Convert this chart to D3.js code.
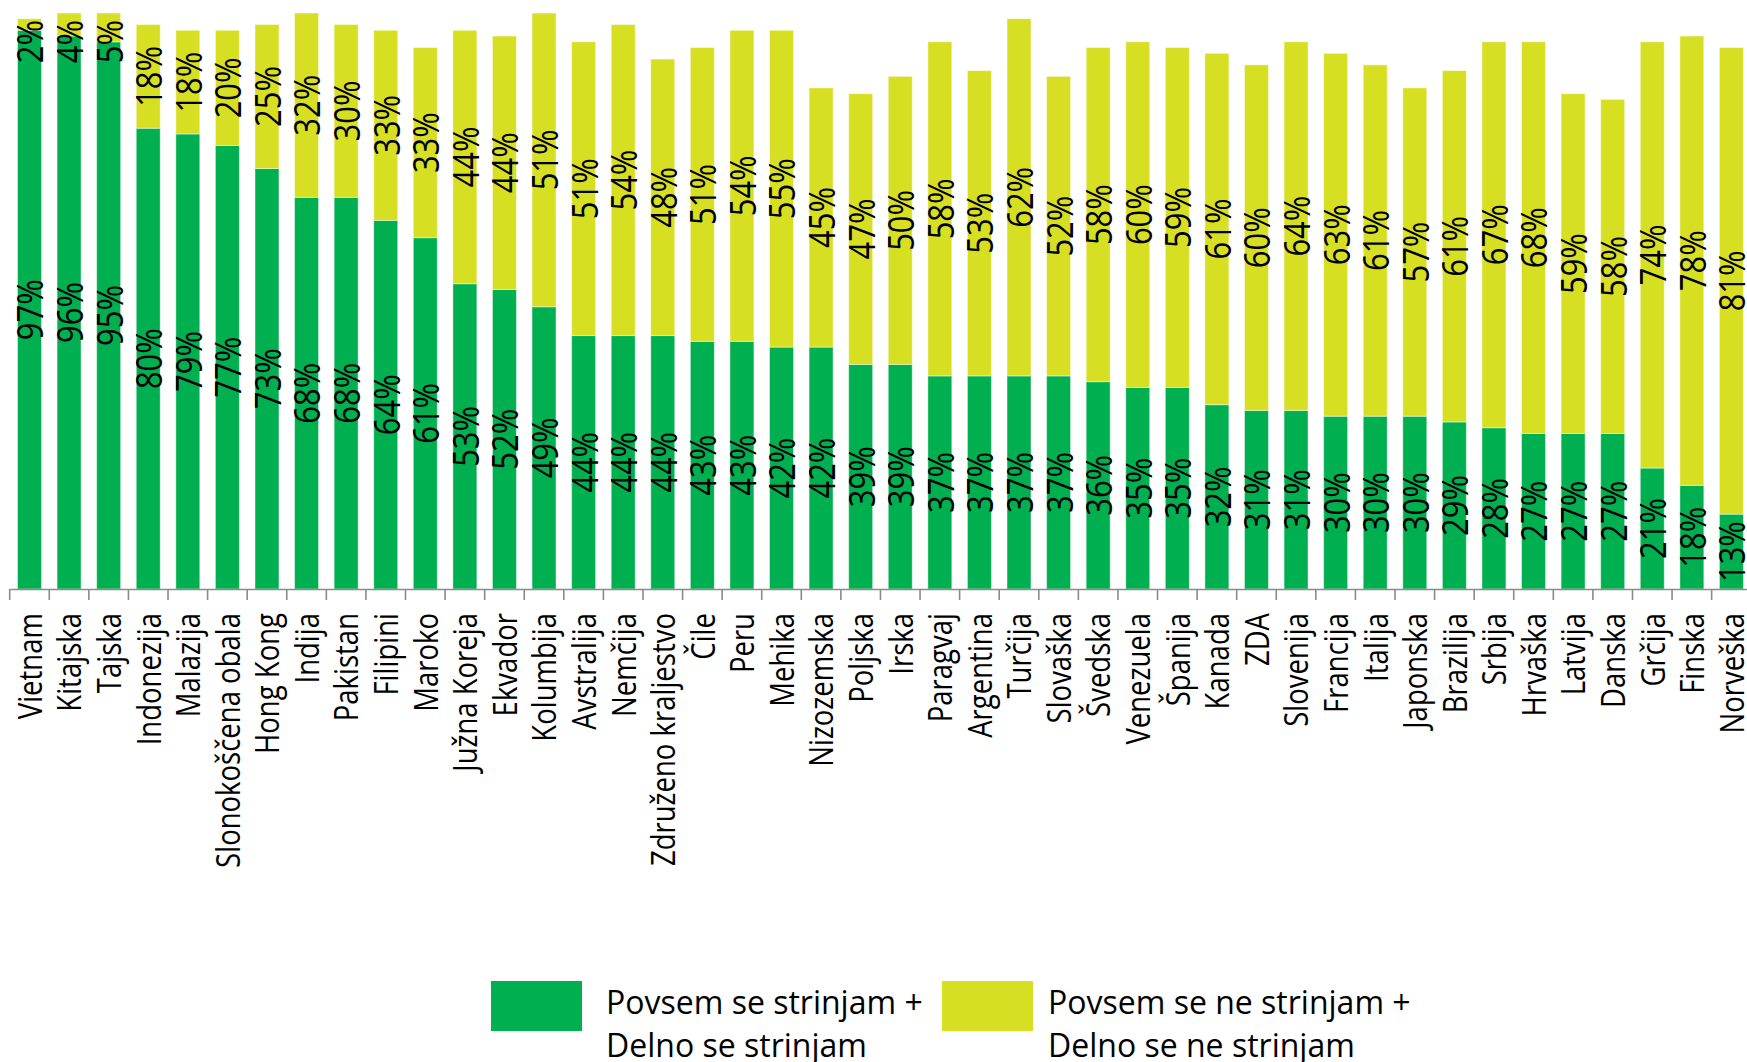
<!DOCTYPE html>
<html>
<head>
<meta charset="utf-8">
<script src="https://cdn.jsdelivr.net/npm/d3@7"></script>
<style>
  html, body { margin: 0; padding: 0; background: #fff; }
  svg { display: block; }
  text { font-family: "Open Sans", "Noto Sans", sans-serif; fill: #000; }
</style>
</head>
<body>
<svg id="chart" width="1747" height="1062"></svg>
<script>
const categories = ["Vietnam","Kitajska","Tajska","Indonezija","Malazija","Slonokoščena obala","Hong Kong","Indija","Pakistan","Filipini","Maroko","Južna Koreja","Ekvador","Kolumbija","Avstralija","Nemčija","Združeno kraljestvo","Čile","Peru","Mehika","Nizozemska","Poljska","Irska","Paragvaj","Argentina","Turčija","Slovaška","Švedska","Venezuela","Španija","Kanada","ZDA","Slovenija","Francija","Italija","Japonska","Brazilija","Srbija","Hrvaška","Latvija","Danska","Grčija","Finska","Norveška"];
const agree    = [97,96,95,80,79,77,73,68,68,64,61,53,52,49,44,44,44,43,43,42,42,39,39,37,37,37,37,36,35,35,32,31,31,30,30,30,29,28,27,27,27,21,18,13];
const disagree = [2,4,5,18,18,20,25,32,30,33,33,44,44,51,51,54,48,51,54,55,45,47,50,58,53,62,52,58,60,59,61,60,64,63,61,57,61,67,68,59,58,74,78,81];
const seriesNames = [["Povsem se strinjam +","Delno se strinjam"],["Povsem se ne strinjam +","Delno se ne strinjam"]];
const colors = ["#00b050","#d7df23"];

const svg = d3.select("#chart");
const x = d3.scaleBand().domain(categories).range([9.7, 9.7 + 44*39.58]).paddingInner(0.394).paddingOuter(0.197);
const y = d3.scaleLinear().domain([0,100]).range([589, 13]);
const squeeze = 0.86;

const rows = categories.map((c,i)=>({c, a:agree[i], d:disagree[i]}));

const g = svg.append("g");
g.selectAll("rect.a").data(rows).join("rect")
  .attr("x", d=>x(d.c)).attr("width", x.bandwidth())
  .attr("y", d=>y(d.a)).attr("height", d=>y(0)-y(d.a))
  .attr("fill", colors[0]).attr("stroke","rgba(255,255,255,0.45)").attr("stroke-width",1);
g.selectAll("rect.d").data(rows).join("rect")
  .attr("x", d=>x(d.c)).attr("width", x.bandwidth())
  .attr("y", d=>y(d.a+d.d)).attr("height", d=>y(d.a)-y(d.a+d.d))
  .attr("fill", colors[1]).attr("stroke","rgba(255,255,255,0.45)").attr("stroke-width",1);

// axis
const axis = d3.axisBottom(x).tickSize(0).tickFormat("");
const ax = svg.append("g").attr("transform","translate(0,589)").call(axis);
ax.select(".domain").attr("stroke","#8a8a8a").attr("stroke-width",1.6);
svg.append("g").selectAll("line").data(categories).join("line")
  .attr("x1", c=>x(c) + x.bandwidth()/2 - x.step()/2).attr("x2", c=>x(c) + x.bandwidth()/2 - x.step()/2)
  .attr("y1",589).attr("y2",600).attr("stroke","#8a8a8a").attr("stroke-width",1.6);

// value labels
const lab = svg.append("g").style("font-size","36px");
rows.forEach(d=>{
  const cx = x(d.c) + x.bandwidth()/2;
  const cyA = (y(0)+y(d.a))/2;
  lab.append("text").attr("text-anchor","middle").attr("dominant-baseline","central")
    .attr("transform",`translate(${cx},${cyA}) rotate(-90) scale(${squeeze},1)`).text(d.a+"%");
  const t = lab.append("text").attr("text-anchor","middle").attr("dominant-baseline","central").text(d.d+"%");
  const len = t.node().getComputedTextLength()*squeeze;
  let cyD = (y(d.a)+y(d.a+d.d))/2;
  cyD = Math.max(cyD, 20 + len/2);
  t.attr("transform",`translate(${cx},${cyD}) rotate(-90) scale(${squeeze},1)`);
});

// category labels
svg.append("g").style("font-size","32px").selectAll("text").data(categories).join("text")
  .attr("text-anchor","end").attr("dominant-baseline","central")
  .attr("transform", c=>`translate(${x(c)+x.bandwidth()/2},613) rotate(-90) scale(${squeeze},1)`)
  .text(c=>c);

// legend
const legendX = [491, 942];
const legendTextX = [606, 1048];
const leg = svg.append("g").style("font-size","32px");
seriesNames.forEach((lines,i)=>{
  leg.append("rect").attr("x",legendX[i]).attr("y",981).attr("width",91).attr("height",50).attr("fill",colors[i]);
  lines.forEach((ln,j)=>{
    leg.append("text").attr("x",legendTextX[i]).attr("y",1014 + j*43).text(ln);
  });
});
</script>
</body>
</html>
